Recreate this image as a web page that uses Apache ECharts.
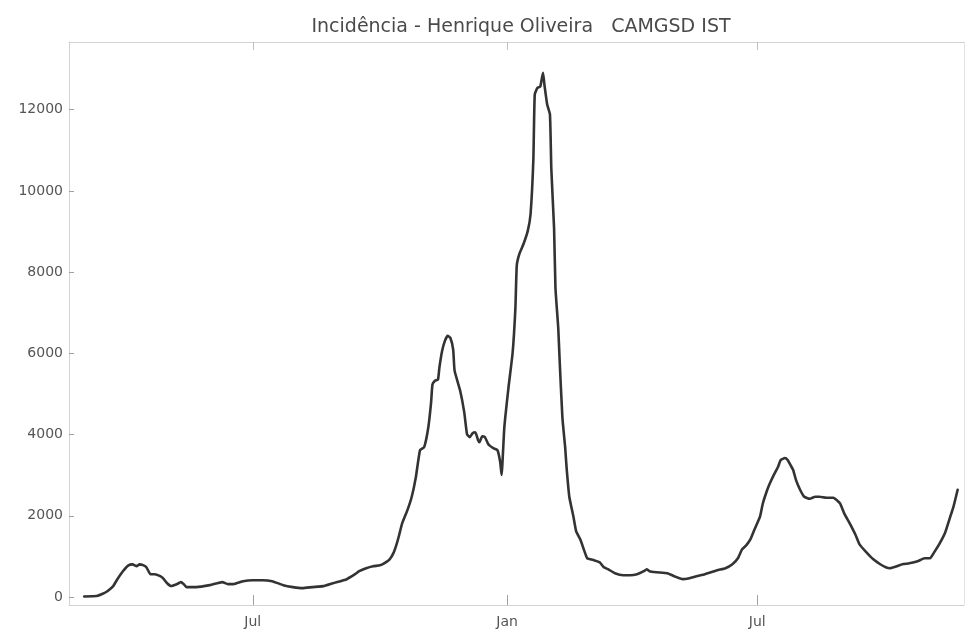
<!DOCTYPE html>
<html>
<head>
<meta charset="utf-8">
<script src="https://cdn.jsdelivr.net/npm/echarts@6/dist/echarts.min.js"></script>
<style>
html,body{margin:0;padding:0;background:#fff;}
#chart{width:966px;height:629px;}
</style>
</head>
<body>
<div id="chart"></div>
<script>
// Days counted from 1 July 2020
var days = [-122,-113,-109,-105,-101,-98,-94,-90,-87,-84,-82,-79,-77,-74,-71,-67,-65,-62,-59,-55,-52,-50,-48,-41,-31,-22,-18,-14,-7,0,7,14,22,29,36,43,51,58,68,74,77,82,87,92,95,99,102,104,106,108,112,115,118,121,124,127,129,130,132,134,135,137,139,141,143,145,146,150,153,155,157,159,161,163,164,166,168,170,171,174,177,179,180,182,185,188,190,191,193,196,199,201,203,204,206,208,210,211,213,215,216,218,219,221,222,224,226,227,229,232,234,237,240,242,247,251,254,257,262,268,273,278,283,285,287,292,300,305,311,316,321,327,336,342,347,351,354,357,360,363,367,369,372,374,377,380,382,385,387,389,391,393,396,399,403,407,410,415,420,423,425,428,432,436,439,444,449,454,458,461,466,470,475,481,486,490,493,497,501,504,507,510];
// Daily incidence (cases)
var cases = [15,25,75,150,270,440,635,780,805,760,805,780,735,560,560,515,465,340,270,318,367,318,245,245,293,367,318,318,391,415,415,391,293,245,220,245,269,342,440,562,636,709,758,782,831,929,1100,1296,1540,1809,2152,2469,2958,3619,3692,4181,4792,5232,5330,5355,5648,6064,6308,6430,6381,6088,5575,5086,4548,4010,3936,4034,4059,3863,3814,3961,3936,3790,3741,3667,3619,3325,3007,4181,5159,6015,7115,8166,8460,8704,9022,9438,10782,12372,12543,12567,12910,12616,12127,11883,10538,9071,7604,6626,5844,4425,3692,3203,2469,1980,1614,1418,1125,954,905,856,733,685,587,538,538,562,636,685,636,611,587,513,440,465,513,562,660,709,807,954,1174,1271,1418,1663,1980,2298,2616,2787,3007,3203,3374,3423,3374,3252,3130,2885,2641,2469,2421,2469,2469,2445,2445,2372,2298,2054,1809,1540,1296,1100,929,807,733,709,758,807,831,880,954,954,1100,1320,1589,1907,2225,2641];
// Axis ticks
var xTickDays = [0, 184, 365];
var xTickLabels = ['Jul', 'Jan', 'Jul'];
var yTicks = [0, 2000, 4000, 6000, 8000, 10000, 12000];

var seriesData = days.map(function (d, i) { return [d, cases[i]]; });

var frameColor = '#d2d2d2';
var xMin = -133, xMax = 514.6, yMin = -196, yMax = 13667;

var chart = echarts.init(document.getElementById('chart'), null, {renderer: 'canvas'});
chart.setOption({
  backgroundColor: '#ffffff',
  animation: false,
  title: {
    text: 'Incidência - Henrique Oliveira   CAMGSD IST',
    left: 516, top: 13, textAlign: 'center',
    textStyle: {fontFamily: 'DejaVu Sans', fontSize: 19, fontWeight: 'normal', color: '#4a4a4a'}
  },
  grid: {left: 69, right: 2, top: 42, bottom: 20, containLabel: false},
  xAxis: [{
    type: 'value', min: xMin, max: xMax, position: 'bottom',
    axisLine: {show: true, onZero: false, lineStyle: {color: frameColor, width: 1}},
    axisTick: {show: true, inside: true, length: 10, customValues: xTickDays, lineStyle: {color: '#a0a0a0'}},
    axisLabel: {
      show: true, margin: 10, customValues: xTickDays,
      fontFamily: 'DejaVu Sans', fontSize: 14, color: '#555',
      formatter: function (v) { var i = xTickDays.indexOf(v); return i >= 0 ? xTickLabels[i] : ''; }
    },
    splitLine: {show: false}
  }, {
    type: 'value', min: xMin, max: xMax, position: 'top',
    axisLine: {show: true, onZero: false, lineStyle: {color: frameColor, width: 1}},
    axisTick: {show: true, inside: true, length: 8, customValues: xTickDays, lineStyle: {color: '#c0c0c0'}},
    axisLabel: {show: false},
    splitLine: {show: false}
  }],
  yAxis: [{
    type: 'value', min: yMin, max: yMax, position: 'left',
    axisLine: {show: true, onZero: false, lineStyle: {color: frameColor, width: 1}},
    axisTick: {show: true, inside: true, length: 5, customValues: yTicks, lineStyle: {color: '#a0a0a0'}},
    axisLabel: {
      show: true, margin: 6, customValues: yTicks,
      fontFamily: 'DejaVu Sans', fontSize: 14, color: '#555',
      formatter: function (v) { return String(v); }
    },
    splitLine: {show: false}
  }, {
    type: 'value', min: yMin, max: yMax, position: 'right',
    axisLine: {show: true, onZero: false, lineStyle: {color: '#e4e4e4', width: 1}},
    axisTick: {show: false},
    axisLabel: {show: false},
    splitLine: {show: false}
  }],
  series: [{
    type: 'line',
    xAxisIndex: 0, yAxisIndex: 0,
    data: seriesData,
    showSymbol: false,
    smooth: 0.15,
    lineStyle: {color: '#333333', width: 2.6, cap: 'round', join: 'round'}
  }]
});
</script>
</body>
</html>
